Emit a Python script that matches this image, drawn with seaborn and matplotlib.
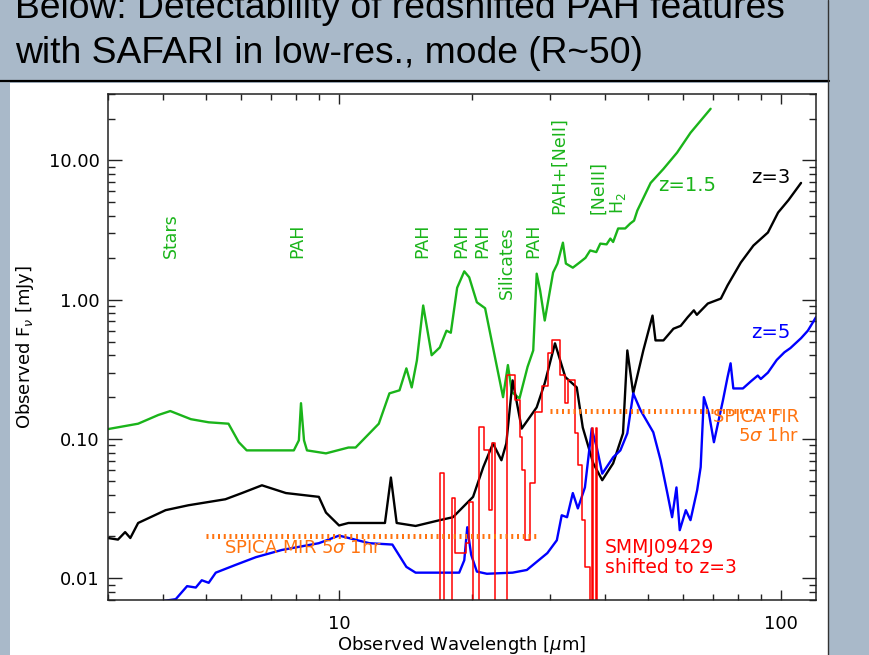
import matplotlib
matplotlib.use('Agg')
import matplotlib.pyplot as plt
import matplotlib.ticker as mticker
from matplotlib.patches import Rectangle
from matplotlib.lines import Line2D
import seaborn as sns

# ---------------- data ----------------
# z = 1.5 template (green)
g_wave = [3.0, 3.51, 3.90, 4.15, 4.62, 5.07, 5.62, 5.93, 6.18, 7.90, 8.11, 8.20, 8.33, 8.46,
          9.34, 10.5, 10.9, 12.3, 13.0, 13.7, 14.2, 14.6, 15.0, 15.5, 16.2, 16.9, 17.5, 17.9,
          18.5, 19.2, 19.7, 20.5, 21.4, 22.3, 23.5, 24.1, 24.6, 25.6, 26.7, 27.5, 28.0, 28.5,
          29.2, 30.5, 31.2, 32.1, 32.6, 33.8, 35.0, 36.1, 37.0, 38.2, 39.0, 40.3, 41.1, 41.7,
          42.8, 44.4, 45.6, 46.5, 47.3, 50.7, 54.2, 58.2, 62.4, 69.3]
g_flux = [0.118, 0.129, 0.149, 0.159, 0.139, 0.132, 0.129, 0.095, 0.083, 0.083, 0.098, 0.181,
          0.098, 0.083, 0.079, 0.087, 0.087, 0.129, 0.213, 0.224, 0.322, 0.235, 0.367, 0.91,
          0.40, 0.455, 0.60, 0.58, 1.22, 1.60, 1.45, 0.96, 0.87, 0.455, 0.20, 0.34, 0.217,
          0.196, 0.33, 0.433, 1.54, 1.17, 0.71, 1.57, 1.82, 2.57, 1.82, 1.70, 1.85, 2.0, 2.26,
          2.2, 2.53, 2.5, 2.75, 2.6, 3.25, 3.25, 3.53, 3.7, 4.37, 6.9, 8.7, 11.4, 15.8, 23.5]

# z = 3 template (black)
k_wave = [3.0, 3.16, 3.28, 3.37, 3.51, 4.05, 4.56, 5.53, 6.03, 6.69, 7.58, 9.0, 9.34, 10.0,
          10.5, 12.7, 13.1, 13.5, 14.9, 16.9, 18.1, 20.1, 21.2, 22.3, 23.3, 23.9, 24.7, 25.9,
          28.0, 29.2, 30.8, 32.5, 34.5, 35.6, 37.6, 39.4, 41.7, 43.9, 44.9, 46.3, 48.8, 51.2,
          52.0, 54.2, 57.1, 59.3, 61.5, 63.5, 64.5, 68.3, 73.1, 75.7, 81.1, 86.6, 93.4, 98.5,
          104, 111]
k_flux = [0.0195, 0.019, 0.0215, 0.0195, 0.025, 0.0309, 0.0335, 0.037, 0.041, 0.0466, 0.041,
          0.0385, 0.0297, 0.024, 0.025, 0.025, 0.053, 0.025, 0.0238, 0.0262, 0.0275, 0.0385,
          0.063, 0.093, 0.0705, 0.093, 0.264, 0.119, 0.169, 0.252, 0.487, 0.279, 0.235, 0.121,
          0.067, 0.0507, 0.067, 0.110, 0.433, 0.213, 0.433, 0.77, 0.511, 0.511, 0.62, 0.65,
          0.75, 0.84, 0.78, 0.94, 1.02, 1.27, 1.85, 2.45, 3.04, 4.23, 5.2, 6.9]

# z = 5 template (blue)
b_wave = [3.9, 4.27, 4.53, 4.74, 4.89, 5.07, 5.26, 5.83, 6.48, 7.42, 9.0, 10.0, 11.7, 13.2,
          14.2, 14.9, 18.7, 19.2, 19.5, 19.9, 20.5, 21.6, 24.7, 26.6, 29.6, 31.1, 31.9, 32.8,
          33.8, 34.7, 36.0, 37.3, 38.3, 39.4, 41.7, 43.3, 44.9, 46.3, 48.1, 51.4, 53.4, 55.3,
          56.7, 58.0, 59.0, 60.9, 62.4, 64.6, 65.8, 66.9, 68.7, 70.5, 73.9, 75.7, 76.9, 78.0,
          82.0, 85.5, 88.6, 90.0, 93.4, 97.8, 101.8, 105, 111, 115, 120]
b_flux = [0.0068, 0.0071, 0.0088, 0.0086, 0.0097, 0.0093, 0.0110, 0.0125, 0.0142, 0.0160,
          0.0179, 0.0203, 0.0179, 0.0175, 0.0121, 0.0110, 0.0110, 0.0135, 0.0233, 0.0148,
          0.0112, 0.0108, 0.0110, 0.0115, 0.0152, 0.0188, 0.0284, 0.0275, 0.041, 0.0318,
          0.045, 0.119, 0.087, 0.0565, 0.074, 0.083, 0.110, 0.213, 0.161, 0.112, 0.0705,
          0.041, 0.0275, 0.045, 0.0222, 0.0309, 0.0262, 0.043, 0.063, 0.200, 0.152, 0.095,
          0.190, 0.279, 0.350, 0.231, 0.231, 0.26, 0.286, 0.27, 0.30, 0.37, 0.42, 0.45, 0.53,
          0.60, 0.75]

# SMMJ09429 shifted to z=3 (red, binned spectrum: bin edges and bin fluxes)
r_edges = [16.90, 16.96, 17.32, 17.97, 18.25, 19.34, 19.65, 20.06, 20.70, 21.25, 21.81, 22.16,
           22.51, 23.96, 24.99, 25.65, 25.92, 26.33, 27.03, 27.75, 28.79, 29.70, 30.33, 31.62,
           32.46, 32.97, 34.20, 34.75, 35.48, 36.05, 37.00, 37.39, 37.58, 38.18, 38.38, 38.99]
r_flux = [0.001, 0.0569, 0.001, 0.0376, 0.0152, 0.0179, 0.0352, 0.001, 0.1215, 0.083, 0.0309,
          0.0933, 0.001, 0.2867, 0.190, 0.103, 0.0598, 0.0188, 0.0482, 0.156, 0.239, 0.412,
          0.511, 0.2867, 0.181, 0.264, 0.110, 0.065, 0.0262, 0.0120, 0.001, 0.1195, 0.001,
          0.1195, 0.001]

# SPICA sensitivity limits (5 sigma, 1 hr)
mir_wave = [5.0, 28.0]
mir_flux = [0.02, 0.02]
fir_wave = [30.0, 100.0]
fir_flux = [0.16, 0.16]

# feature labels: (text, wavelength, bottom flux)
feat_text = ['Stars', 'PAH', 'PAH', 'PAH', 'PAH', 'Silicates', 'PAH', 'PAH+[NeII]', '[NeIII]', 'H$_2$']
feat_wave = [4.17, 8.03, 15.4, 18.9, 21.1, 23.96, 27.5, 31.5, 38.5, 42.8]
feat_ybot = [2.0, 2.0, 2.0, 2.0, 2.0, 1.02, 2.0, 4.16, 4.16, 4.16]

y_ticks = [0.01, 0.1, 1.0, 10.0]
y_tick_labels = ['0.01', '0.10', '1.00', '10.00']
x_ticks = [10, 100]
x_tick_labels = ['10', '100']

# ---------------- style ----------------
sns.set_style('ticks')
plt.rcParams['font.family'] = ['DejaVu Sans']
plt.rcParams['mathtext.fontset'] = 'dejavusans'

SLATE = '#a9b9c9'
GREEN = '#1ab41a'
BLUE = '#0000ff'
RED = '#ff0000'
ORANGE = '#ff7410'

W, H = 870, 655
fig = plt.figure(figsize=(W / 100, H / 100), dpi=100)
fig.patch.set_facecolor(SLATE)


def fx(px):
    return px / W


def fy(py):
    return 1 - py / H


# white slide panel and title box borders
fig.patches.append(Rectangle((fx(10), 0), fx(828) - fx(10), fy(83), transform=fig.transFigure,
                             facecolor='white', edgecolor='none', zorder=-5))
fig.lines.append(Line2D([0, fx(829)], [fy(80.5), fy(80.5)], transform=fig.transFigure,
                        color='black', lw=1.6, zorder=-4))
fig.lines.append(Line2D([fx(828.5), fx(828.5)], [0, 1], transform=fig.transFigure,
                        color='#333333', lw=1.0, zorder=-4))

fig.text(fx(15), fy(18), 'Below: Detectability of redshifted PAH features',
         family='Liberation Sans', fontsize=26.8, va='baseline', ha='left', color='black')
fig.text(fx(15), fy(63), 'with SAFARI in low-res., mode (R~50)',
         family='Liberation Sans', fontsize=26.8, va='baseline', ha='left', color='black')

ax = fig.add_axes([fx(108), fy(600), fx(816) - fx(108), fy(94) - fy(600)])
ax.set_facecolor('white')
ax.set_zorder(1)

sns.lineplot(x=g_wave, y=g_flux, ax=ax, color=GREEN, lw=1.7, sort=False, estimator=None)
sns.lineplot(x=k_wave, y=k_flux, ax=ax, color='black', lw=1.7, sort=False, estimator=None)
sns.lineplot(x=b_wave, y=b_flux, ax=ax, color=BLUE, lw=1.7, sort=False, estimator=None)
sns.lineplot(x=r_edges, y=r_flux + [r_flux[-1]], ax=ax, color=RED, lw=1.1, sort=False,
             estimator=None, drawstyle='steps-post')
sns.lineplot(x=mir_wave, y=mir_flux, ax=ax, color=ORANGE, lw=3.6, sort=False, estimator=None,
             linestyle=(0, (0.4, 0.75)))
sns.lineplot(x=fir_wave, y=fir_flux, ax=ax, color=ORANGE, lw=3.6, sort=False, estimator=None,
             linestyle=(0, (0.4, 0.75)))

ax.set_xscale('log')
ax.set_yscale('log')
ax.set_xlim(3.0, 120)
ax.set_ylim(0.007, 30)

ax.xaxis.set_major_locator(mticker.FixedLocator(x_ticks))
ax.xaxis.set_major_formatter(mticker.FixedFormatter(x_tick_labels))
ax.xaxis.set_minor_locator(mticker.LogLocator(base=10, subs=range(2, 10), numticks=20))
ax.xaxis.set_minor_formatter(mticker.NullFormatter())
ax.yaxis.set_major_locator(mticker.FixedLocator(y_ticks))
ax.yaxis.set_major_formatter(mticker.FixedFormatter(y_tick_labels))
ax.yaxis.set_minor_locator(mticker.LogLocator(base=10, subs=range(2, 10), numticks=20))
ax.yaxis.set_minor_formatter(mticker.NullFormatter())

ax.tick_params(which='both', direction='in', top=True, right=True, color='#222222',
               width=1.0, labelsize=13, labelcolor='black')
ax.tick_params(axis='x', which='major', length=7.5, pad=11)
ax.tick_params(axis='x', which='minor', length=4)
ax.tick_params(axis='y', which='major', length=10, pad=6)
ax.tick_params(axis='y', which='minor', length=5)
for s in ax.spines.values():
    s.set_linewidth(1.1)
    s.set_color('#222222')
ax.set_xlabel('')
ax.set_ylabel('')

fig.text(fx(462), fy(645), 'Observed Wavelength [$\\mu$m]', fontsize=13, ha='center',
         va='center', color='black')
fig.text(fx(25), fy(347), 'Observed F$_{\\nu}$ [mJy]', fontsize=13, ha='center', va='center',
         rotation=90, color='black')

# feature labels
for t, xw, yb in zip(feat_text, feat_wave, feat_ybot):
    ax.text(xw, yb, t, rotation=90, ha='center', va='bottom', color=GREEN, fontsize=12.5)

ax.text(52.8, 6.6, 'z=1.5', color=GREEN, fontsize=14, ha='left', va='center')
ax.text(85.5, 7.5, 'z=3', color='black', fontsize=14, ha='left', va='center')
ax.text(85.5, 0.583, 'z=5', color=BLUE, fontsize=14, ha='left', va='center')
ax.text(110, 0.123, 'SPICA FIR\n5$\\sigma$ 1hr', color=ORANGE, fontsize=13, ha='right',
        va='center', linespacing=1.05, multialignment='right')
ax.text(5.48, 0.0165, 'SPICA MIR 5$\\sigma$ 1hr', color=ORANGE, fontsize=13, ha='left',
        va='center')
ax.text(40.0, 0.0142, 'SMMJ09429\nshifted to z=3', color=RED, fontsize=13.5, ha='left',
        va='center', linespacing=1.05)

fig.savefig('out.png', dpi=100, facecolor=fig.get_facecolor())
